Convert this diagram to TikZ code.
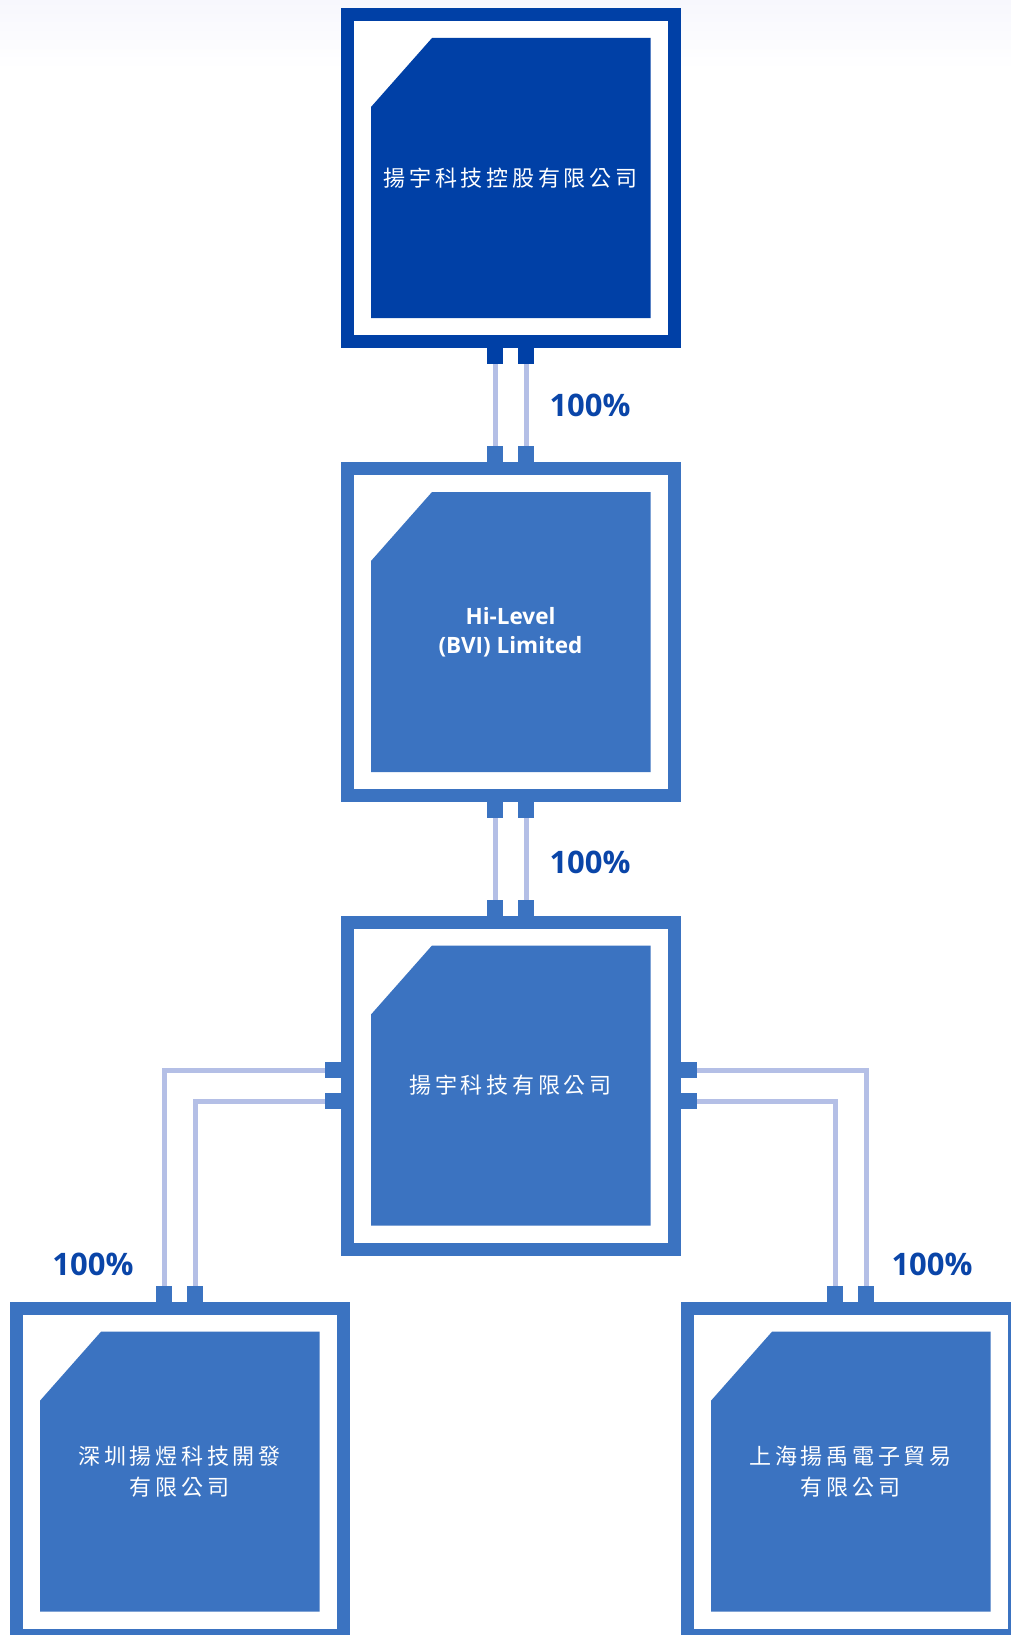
\documentclass[tikz,border=0pt]{standalone}
\usepackage{fontspec}
\setmainfont{Open Sans}
\newfontfamily\cjk{Noto Sans CJK TC}[LetterSpace=17]
\usetikzlibrary{positioning}

\definecolor{darkblue}{RGB}{0,64,166}
\definecolor{midblue}{RGB}{59,115,193}
\definecolor{linkblue}{RGB}{180,191,230}
\definecolor{pctblue}{RGB}{10,69,168}
\definecolor{bgtint}{RGB}{247,247,253}

\tikzset{
    company/.style={draw=#1, fill=white, line width=13, minimum width=327,
        minimum height=327, inner sep=0, text=white, align=center,
        font=\fontsize{22}{31}\selectfont\cjk,
        path picture={\fill[#1]
            ([shift={(85,23.5)}]path picture bounding box.north west)
            -- ([shift={(-23.5,23.5)}]path picture bounding box.north east)
            -- ([shift={(-23.5,-23.5)}]path picture bounding box.south east)
            -- ([shift={(24,-23.5)}]path picture bounding box.south west)
            -- ([shift={(24,92.5)}]path picture bounding box.north west)
            -- cycle;}},
    stub/.style={fill=#1, minimum width=16, minimum height=16, inner sep=0,
        outer sep=0},
    link/.style={draw=linkblue, line width=5},
    pct/.style={text=pctblue, font=\bfseries\fontsize{31}{31}\selectfont,
        inner sep=0}
}

\begin{document}
\begin{tikzpicture}[x=1pt, y=-1pt]
    \useasboundingbox (0,0) rectangle (1011,1635);
    \shade[top color=bgtint, bottom color=white] (0,0) rectangle (1011,70);

    % companies
    \node[company=darkblue] (hold) at (510.5,178) {揚宇科技控股有限公司};
    \node[company=midblue, font=\bfseries\fontsize{22.5}{29}\selectfont]
        (bvi) at (510.5,632) {Hi-Level\\(BVI) Limited};
    \node[company=midblue] (yu) at (510.5,1085.5) {揚宇科技有限公司};
    \node[company=midblue] (sz) at (179.5,1471.7) {深圳揚煜科技開發\\有限公司};
    \node[company=midblue] (sh) at (850.5,1471.7) {上海揚禹電子貿易\\有限公司};

    % stubs
    \foreach \s/\d in {1/-15.5, 2/15.5} {
        \node[stub=darkblue, anchor=north] (hold-\s) at ([xshift=\d]hold.south) {};
        \node[stub=midblue, anchor=south] (bvi-t\s) at ([xshift=\d]bvi.north) {};
        \node[stub=midblue, anchor=north] (bvi-b\s) at ([xshift=\d]bvi.south) {};
        \node[stub=midblue, anchor=south] (yu-t\s) at ([xshift=\d]yu.north) {};
        \node[stub=midblue, anchor=east] (yu-l\s) at ([yshift=-\d]yu.west) {};
        \node[stub=midblue, anchor=west] (yu-r\s) at ([yshift=-\d]yu.east) {};
        \node[stub=midblue, anchor=south] (sz-\s) at ([xshift=\d]sz.north) {};
        \node[stub=midblue, anchor=south] (sh-\s) at ([xshift=\d]sh.north) {};
    }

    % links
    \foreach \s in {1,2} {
        \draw[link] (hold-\s) -- (bvi-t\s);
        \draw[link] (bvi-b\s) -- (yu-t\s);
    }
    \draw[link] (yu-l1) -| (sz-1);
    \draw[link] (yu-l2) -| (sz-2);
    \draw[link] (yu-r1) -| (sh-2);
    \draw[link] (yu-r2) -| (sh-1);

    % shares
    \node[pct] (p1) at (590,405) {100\%};
    \node[pct] (p2) at (590,862) {100\%};
    \node[pct] (p3) at (93,1264) {100\%};
    \node[pct] (p4) at (932,1264) {100\%};

\end{tikzpicture}
\end{document}
